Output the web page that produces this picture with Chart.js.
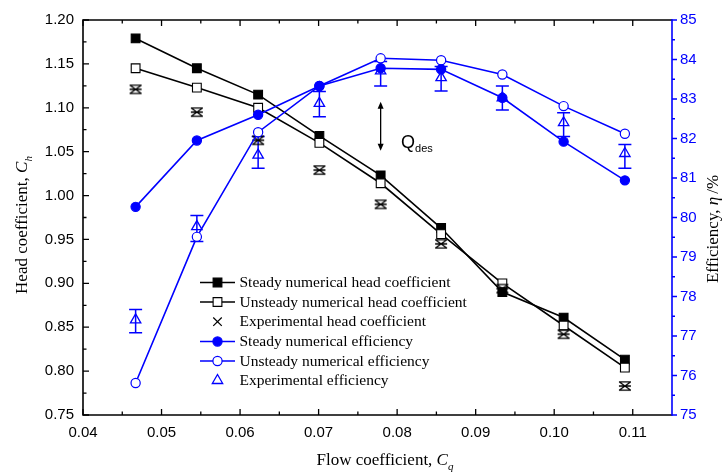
<!DOCTYPE html>
<html><head><meta charset="utf-8">
<script src="https://cdn.jsdelivr.net/npm/chart.js@4/dist/chart.umd.min.js"></script>
<style>html,body{margin:0;padding:0;background:#fff}</style>
</head><body>
<canvas id="c" width="722" height="474"></canvas>
<script>
// ---------- data ----------
const flowCoeff = [0.0467, 0.0545, 0.0623, 0.0701, 0.0779, 0.0856, 0.0934, 0.1012, 0.1090];
const steadyHead = [1.179, 1.145, 1.115, 1.068, 1.023, 0.963, 0.890, 0.861, 0.813];
const unsteadyHead = [1.145, 1.123, 1.100, 1.060, 1.014, 0.956, 0.900, 0.852, 0.804];
const expHead = [1.121, 1.095, 1.063, 1.029, 0.990, 0.945, 0.894, 0.842, 0.783];
const steadyEff = [80.27, 81.95, 82.60, 83.33, 83.78, 83.75, 83.03, 81.92, 80.94];
const unsteadyEff = [75.81, 79.51, 82.16, 83.33, 84.03, 83.98, 83.62, 82.82, 82.12];
const expEff = [77.41, 79.77, 81.58, 82.89, 83.71, 83.54, 83.03, 82.40, 81.62];
const expEffHigh = [77.67, 80.05, 82.05, 83.19, 83.95, 83.82, 83.33, 82.65, 81.85];
const expEffLow = [77.08, 79.39, 81.25, 82.55, 83.33, 83.20, 82.72, 82.05, 81.25];
const xTicks = [0.04, 0.05, 0.06, 0.07, 0.08, 0.09, 0.10, 0.11];
const headTicks = [0.75, 0.80, 0.85, 0.90, 0.95, 1.00, 1.05, 1.10, 1.15, 1.20];
const effTicks = [75, 76, 77, 78, 79, 80, 81, 82, 83, 84, 85];
const legendLabels = ['Steady numerical head coefficient', 'Unsteady numerical head coefficient',
  'Experimental head coefficient', 'Steady numerical efficiency', 'Unsteady numerical efficiency',
  'Experimental efficiency'];
const designFlow = 0.0779;

const BLUE = '#0000ff';
const SANS = '"Liberation Sans", Arial, sans-serif';
const SERIF = '"Liberation Serif", "Times New Roman", serif';

// asterisk-like marker
const star = document.createElement('canvas');
star.width = 16; star.height = 14;
(function(){
  const g = star.getContext('2d');
  g.strokeStyle = '#000'; g.lineWidth = 1.3;
  g.beginPath();
  g.moveTo(2.5, 3); g.lineTo(13.5, 11);
  g.moveTo(13.5, 3); g.lineTo(2.5, 11);
  g.moveTo(2, 2.8); g.lineTo(14, 2.8);
  g.moveTo(2, 11.2); g.lineTo(14, 11.2);
  g.moveTo(2, 7); g.lineTo(14, 7);
  g.stroke();
})();

const pts = arr => flowCoeff.map((v, i) => ({x: v, y: arr[i]}));

const datasets = [
  {data: pts(steadyEff), yAxisID: 'y2', borderColor: BLUE, backgroundColor: BLUE, pointStyle: 'circle', pointRadius: 4.6, borderWidth: 1.6, pointBorderWidth: 1.2},
  {data: pts(unsteadyEff), yAxisID: 'y2', borderColor: BLUE, backgroundColor: '#fff', pointStyle: 'circle', pointRadius: 4.6, borderWidth: 1.6, pointBorderWidth: 1.2},
  {data: pts(expEff), yAxisID: 'y2', showLine: false, borderColor: BLUE, backgroundColor: 'rgba(0,0,0,0)', pointStyle: 'triangle', pointRadius: 6, pointBorderWidth: 1.3},
  {data: pts(expHead), yAxisID: 'y', showLine: false, pointStyle: star, pointRadius: 6},
  {data: pts(unsteadyHead), yAxisID: 'y', borderColor: '#000', backgroundColor: '#fff', pointStyle: 'rect', pointRadius: 6.2, borderWidth: 1.6, pointBorderWidth: 1.1},
  {data: pts(steadyHead), yAxisID: 'y', borderColor: '#000', backgroundColor: '#000', pointStyle: 'rect', pointRadius: 6.2, borderWidth: 1.6, pointBorderWidth: 1.1}
];

function richText(ctx, parts, x, y, rotate) {
  ctx.save();
  ctx.translate(x, y);
  if (rotate) ctx.rotate(-Math.PI / 2);
  let total = 0;
  parts.forEach(p => { ctx.font = p.font; p.w = ctx.measureText(p.text).width; total += p.w + (p.gap || 0); });
  let cx = -total / 2;
  ctx.textBaseline = 'alphabetic';
  ctx.textAlign = 'left';
  parts.forEach(p => { ctx.font = p.font; ctx.fillStyle = p.color || '#000'; ctx.fillText(p.text, cx, p.dy || 0); cx += p.w + (p.gap || 0); });
  ctx.restore();
}

const deco = {
  id: 'deco',
  beforeDatasetsDraw(chart) {
    const {ctx, scales: {x, y2}} = chart;
    ctx.save();
    ctx.strokeStyle = BLUE; ctx.lineWidth = 1.5;
    flowCoeff.forEach((v, i) => {
      const px = x.getPixelForValue(v);
      const t = y2.getPixelForValue(expEffHigh[i]);
      const b = y2.getPixelForValue(expEffLow[i]);
      ctx.beginPath();
      ctx.moveTo(px, t); ctx.lineTo(px, b);
      ctx.moveTo(px - 6.5, t); ctx.lineTo(px + 6.5, t);
      ctx.moveTo(px - 6.5, b); ctx.lineTo(px + 6.5, b);
      ctx.stroke();
    });
    ctx.restore();
  },
  afterDraw(chart) {
    const {ctx, chartArea: ca, scales: {x, y, y2}} = chart;
    ctx.save();
    // frame
    ctx.lineWidth = 1.6;
    ctx.strokeStyle = '#000';
    ctx.beginPath();
    ctx.moveTo(ca.right, ca.top); ctx.lineTo(ca.left, ca.top); ctx.lineTo(ca.left, ca.bottom); ctx.lineTo(ca.right, ca.bottom);
    ctx.stroke();
    ctx.strokeStyle = BLUE;
    ctx.beginPath(); ctx.moveTo(ca.right, ca.top - 0.8); ctx.lineTo(ca.right, ca.bottom + 0.8); ctx.stroke();
    // x ticks
    ctx.strokeStyle = '#000'; ctx.lineWidth = 1.3;
    ctx.beginPath();
    xTicks.forEach((v, i) => {
      const px = x.getPixelForValue(v);
      ctx.moveTo(px, ca.bottom); ctx.lineTo(px, ca.bottom - 6);
      ctx.moveTo(px, ca.top); ctx.lineTo(px, ca.top + 6);
      if (i < xTicks.length - 1) {
        const pm = x.getPixelForValue((v + xTicks[i + 1]) / 2);
        ctx.moveTo(pm, ca.bottom); ctx.lineTo(pm, ca.bottom - 3.5);
        ctx.moveTo(pm, ca.top); ctx.lineTo(pm, ca.top + 3.5);
      }
    });
    headTicks.forEach((v, i) => {
      const py = y.getPixelForValue(v);
      ctx.moveTo(ca.left, py); ctx.lineTo(ca.left + 6, py);
      if (i < headTicks.length - 1) {
        const pm = y.getPixelForValue((v + headTicks[i + 1]) / 2);
        ctx.moveTo(ca.left, pm); ctx.lineTo(ca.left + 3.5, pm);
      }
    });
    ctx.stroke();
    ctx.strokeStyle = BLUE;
    ctx.beginPath();
    effTicks.forEach((v, i) => {
      const py = y2.getPixelForValue(v);
      ctx.moveTo(ca.right, py); ctx.lineTo(ca.right + 5, py);
      if (i < effTicks.length - 1) {
        const pm = y2.getPixelForValue((v + effTicks[i + 1]) / 2);
        ctx.moveTo(ca.right, pm); ctx.lineTo(ca.right + 3, pm);
      }
    });
    ctx.stroke();

    // Q_des arrow
    const ax = x.getPixelForValue(designFlow);
    const at = y.getPixelForValue(1.107), ab = y.getPixelForValue(1.051);
    ctx.strokeStyle = '#000'; ctx.fillStyle = '#000'; ctx.lineWidth = 1.3;
    ctx.beginPath(); ctx.moveTo(ax, at + 3); ctx.lineTo(ax, ab - 3); ctx.stroke();
    ctx.beginPath(); ctx.moveTo(ax, at); ctx.lineTo(ax - 3, at + 7); ctx.lineTo(ax + 3, at + 7); ctx.closePath(); ctx.fill();
    ctx.beginPath(); ctx.moveTo(ax, ab); ctx.lineTo(ax - 3, ab - 7); ctx.lineTo(ax + 3, ab - 7); ctx.closePath(); ctx.fill();
    const qx = x.getPixelForValue(0.0805), qy = y.getPixelForValue(1.054);
    ctx.textAlign = 'left'; ctx.textBaseline = 'alphabetic';
    ctx.font = '18px ' + SANS; ctx.fillText('Q', qx, qy);
    const qw = ctx.measureText('Q').width;
    ctx.font = '11px ' + SANS; ctx.fillText('des', qx + qw, qy + 4);

    // legend
    const lx0 = 200, lx1 = 235, lmx = 217.5, ltx = 239.5;
    const ly = [282.5, 302, 321.7, 341.5, 361, 380.5];
    const lstyles = [
      {line: '#000', style: 'rect', r: 6.2, fill: '#000', stroke: '#000', bw: 1.1},
      {line: '#000', style: 'rect', r: 6.2, fill: '#fff', stroke: '#000', bw: 1.1},
      {line: null, style: 'crossRot', r: 6, fill: '#000', stroke: '#000', bw: 1.2},
      {line: BLUE, style: 'circle', r: 4.6, fill: BLUE, stroke: BLUE, bw: 1.2},
      {line: BLUE, style: 'circle', r: 4.6, fill: '#fff', stroke: BLUE, bw: 1.2},
      {line: null, style: 'triangle', r: 6, fill: '#fff', stroke: BLUE, bw: 1.3}
    ];
    lstyles.forEach((s, i) => {
      const yy = ly[i];
      if (s.line) {
        ctx.strokeStyle = s.line; ctx.lineWidth = 1.6;
        ctx.beginPath(); ctx.moveTo(lx0, yy); ctx.lineTo(lx1, yy); ctx.stroke();
      }
      ctx.fillStyle = s.fill; ctx.strokeStyle = s.stroke; ctx.lineWidth = s.bw;
      Chart.helpers.drawPoint(ctx, {pointStyle: s.style, radius: s.r, borderWidth: s.bw, rotation: 0}, lmx, yy);
      ctx.fillStyle = '#000';
      ctx.font = '15.5px ' + SERIF; ctx.textBaseline = 'middle'; ctx.textAlign = 'left';
      ctx.fillText(legendLabels[i], ltx, yy + 0.5);
    });

    // axis titles
    const tf = '17px ' + SERIF, tfi = 'italic 17px ' + SERIF, sub = 'italic 11px ' + SERIF;
    richText(ctx, [{text: 'Flow coefficient, ', font: tf}, {text: 'C', font: tfi}, {text: 'q', font: sub, dy: 5}], 385, 465, false);
    richText(ctx, [{text: 'Head coefficient, ', font: tf}, {text: 'C', font: tfi}, {text: 'h', font: sub, dy: 5}], 27, 225, true);
    richText(ctx, [{text: 'Efficiency, ', font: tf}, {text: 'η', font: tfi, gap: 3}, {text: '/%', font: tf}], 718, 229, true);
    ctx.restore();
  }
};

new Chart(document.getElementById('c'), {
  type: 'line',
  data: {datasets},
  options: {
    responsive: false,
    animation: false,
    events: [],
    layout: {padding: {top: 20, left: 0, right: 0, bottom: 0}},
    plugins: {legend: {display: false}, tooltip: {enabled: false}},
    scales: {
      x: {
        type: 'linear', position: 'bottom', min: 0.04, max: 0.115,
        afterBuildTicks: s => { s.ticks = xTicks.map(v => ({value: v})); },
        afterFit: s => { s.height = 59; },
        grid: {display: false, drawTicks: false}, border: {display: false},
        ticks: {padding: 9, color: '#000', font: {family: SANS, size: 15}, maxRotation: 0, autoSkip: false,
          callback: v => Number(v).toFixed(2)}
      },
      y: {
        type: 'linear', position: 'left', min: 0.75, max: 1.20,
        afterBuildTicks: s => { s.ticks = headTicks.map(v => ({value: v})); },
        afterFit: s => { s.width = 83; },
        grid: {display: false, drawTicks: false}, border: {display: false},
        ticks: {padding: 9, color: '#000', font: {family: SANS, size: 15}, autoSkip: false,
          callback: v => Number(v).toFixed(2)}
      },
      y2: {
        type: 'linear', position: 'right', min: 75, max: 85,
        afterBuildTicks: s => { s.ticks = effTicks.map(v => ({value: v})); },
        afterFit: s => { s.width = 50; },
        grid: {display: false, drawTicks: false}, border: {display: false},
        ticks: {padding: 8, color: BLUE, font: {family: SANS, size: 15}, autoSkip: false,
          callback: v => String(Math.round(v))}
      }
    }
  },
  plugins: [deco]
});
</script>
</body></html>
